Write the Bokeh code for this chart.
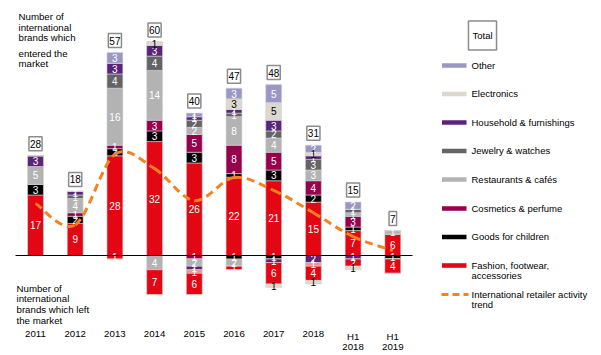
from bokeh.plotting import figure
from bokeh.models import Range1d
from bokeh.core.properties import value
from bokeh.embed import file_html
from bokeh.resources import INLINE

# ---------------- data ----------------
categories = ["2011", "2012", "2013", "2014", "2015", "2016", "2017", "2018", "H1\n2018", "H1\n2019"]

# brands which entered the market (stacked upward)
fashion_in     = [17, 9, 28, 32, 26, 22, 21, 15, 7, 6]
goods_in       = [3, 2, 2, 3, 3, 1, 3, 2, 1, 0]
cosmetics_in   = [0, 1, 1, 3, 5, 8, 5, 4, 3, 0]
restaurants_in = [5, 4, 16, 14, 2, 8, 4, 3, 1, 1]
jewelry_in     = [0, 1, 4, 4, 2, 1, 2, 3, 1, 0]
household_in   = [3, 1, 3, 3, 1, 1, 3, 1, 0, 0]
electronics_in = [0, 0, 0, 1, 0, 3, 5, 1, 0, 0]
other_in       = [0, 0, 3, 0, 1, 3, 5, 2, 2, 0]
totals_in      = [28, 18, 57, 60, 40, 47, 48, 31, 15, 7]

# brands which left the market (stacked downward)
cosmetics_out   = [0, 0, 0, 0, 1, 0, 0, 0, 0, 0]
goods_out       = [0, 0, 0, 0, 0, 1, 1, 0, 0, 1]
restaurants_out = [0, 0, 0, 4, 2, 2, 0, 0, 0, 0]
household_out   = [0, 0, 0, 0, 1, 0, 1, 2, 1, 0]
misc_out        = [0, 0, 0, 0, 1, 0, 0, 1, 0, 0]
fashion_out     = [0, 0, 1, 7, 6, 1, 6, 4, 2, 4]
electronics_out = [0, 0, 0, 0, 0, 0, 1, 1, 1, 0]

# international retailer activity trend
trend = [14.6, 8.6, 28.4, 24.4, 15.4, 21.9, 18.3, 12.0, 5.3, 1.4]

legend_labels = ["Other", "Electronics", "Household & furnishings", "Jewelry & watches",
                 "Restaurants & cafés", "Cosmetics & perfume", "Goods for children",
                 "Fashion, footwear,\naccessories", "International retailer activity\ntrend"]

# ---------------- styling ----------------
C_FASHION = "#e30613"
C_GOODS = "#000000"
C_COSM = "#98004b"
C_REST = "#b3b3b3"
C_JEW = "#646466"
C_HOUSE = "#5b2379"
C_ELEC = "#dcd8ce"
C_OTHER = "#9a97c6"
C_MISC = "#f29090"
C_TREND = "#f58220"
FONT = value("Liberation Sans")
LH = 0.97

W, H = 601, 355
X0PX, XSTEP = 35.0, 39.7
Y0PX, YUNIT = 255.0, 3.56


def X(px):
    return (px - X0PX) / XSTEP


def Y(py):
    return (Y0PX - py) / YUNIT


p = figure(width=W, height=H, x_range=Range1d(X(0), X(W)), y_range=Range1d(Y(H), Y(0)),
           output_backend="svg", toolbar_location=None,
           x_axis_location=None, y_axis_location=None, min_border=0,
           outline_line_color=None, background_fill_color="white", border_fill_color="white")
p.grid.visible = False

xs = list(range(len(categories)))
BAR_W = 0.40

pos_series = [(fashion_in, C_FASHION, "white"), (goods_in, C_GOODS, "white"),
              (cosmetics_in, C_COSM, "white"), (restaurants_in, C_REST, "white"),
              (jewelry_in, C_JEW, "white"), (household_in, C_HOUSE, "white"),
              (electronics_in, C_ELEC, "black"), (other_in, C_OTHER, "white")]
neg_series = [(cosmetics_out, C_COSM, "white"), (goods_out, C_GOODS, "white"),
              (restaurants_out, C_REST, "white"), (household_out, C_HOUSE, "white"),
              (misc_out, C_MISC, "white"), (fashion_out, C_FASHION, "white"),
              (electronics_out, C_ELEC, "black")]

lab = {"white": ([], [], []), "black": ([], [], [])}

base = [0.0] * len(xs)
for vals, col, tcol in pos_series:
    top = [b + v for b, v in zip(base, vals)]
    p.vbar(x=xs, bottom=base, top=top, width=BAR_W, fill_color=col,
           line_color="#d4d4d4", line_width=0.6)
    for i, v in enumerate(vals):
        if v > 0:
            lab[tcol][0].append(i)
            lab[tcol][1].append((base[i] + top[i]) / 2)
            lab[tcol][2].append(str(v))
    base = top

base = [0.0] * len(xs)
for vals, col, tcol in neg_series:
    bot = [b - v for b, v in zip(base, vals)]
    p.vbar(x=xs, bottom=bot, top=base, width=BAR_W, fill_color=col,
           line_color="#d4d4d4", line_width=0.6)
    for i, v in enumerate(vals):
        if v > 0:
            lab[tcol][0].append(i)
            lab[tcol][1].append((base[i] + bot[i]) / 2)
            lab[tcol][2].append(str(v))
    base = bot

for tcol, (lx, ly, lt) in lab.items():
    p.text(x=lx, y=ly, text=lt, text_color=tcol, text_font=FONT,
           text_font_size=value("10px"), text_align="center", text_baseline="middle")

# zero line
p.segment(x0=[X(15)], y0=[0], x1=[X(412)], y1=[0], line_color="black", line_width=1)

# trend (smoothed like a spreadsheet smooth line)
n = len(trend)
bx0, by0, bx1, by1, cx0, cy0, cx1, cy1 = [], [], [], [], [], [], [], []
for i in range(n - 1):
    pm = (xs[max(i - 1, 0)], trend[max(i - 1, 0)])
    p0 = (xs[i], trend[i])
    p1 = (xs[i + 1], trend[i + 1])
    p2 = (xs[min(i + 2, n - 1)], trend[min(i + 2, n - 1)])
    bx0.append(p0[0]); by0.append(p0[1]); bx1.append(p1[0]); by1.append(p1[1])
    cx0.append(p0[0] + (p1[0] - pm[0]) / 6); cy0.append(p0[1] + (p1[1] - pm[1]) / 6)
    cx1.append(p1[0] - (p2[0] - p0[0]) / 6); cy1.append(p1[1] - (p2[1] - p0[1]) / 6)
p.bezier(x0=bx0, y0=by0, x1=bx1, y1=by1, cx0=cx0, cy0=cy0, cx1=cx1, cy1=cy1,
         line_color=C_TREND, line_width=3, line_dash="8 5")

# total boxes
p.text(x=xs, y=totals_in, text=[str(t) for t in totals_in], y_offset=-5,
       text_font=FONT, text_font_size=value("10px"), text_color="black",
       text_align="center", text_baseline="bottom",
       background_fill_color="white", border_line_color="#8c8c8c", border_line_width=1.5,
       padding=(1, 3))

# category labels
p.text(x=xs, y=[Y(330)] * len(xs), text=categories, text_font=FONT,
       text_font_size=value("9.7px"), text_color="black", text_align="center",
       text_baseline="top", text_line_height=LH)

# annotations
p.text(x=[X(18)], y=[Y(10.5)], text=["Number of\ninternational\nbrands which"],
       text_font=FONT, text_font_size=value("9.7px"), text_color="black",
       text_align="left", text_baseline="top", text_line_height=LH)
p.text(x=[X(18)], y=[Y(47)], text=["entered the\nmarket"],
       text_font=FONT, text_font_size=value("9.7px"), text_color="black",
       text_align="left", text_baseline="top", text_line_height=LH)
p.text(x=[X(16)], y=[Y(282)], text=["Number of\ninternational\nbrands which left\nthe market"],
       text_font=FONT, text_font_size=value("9.7px"), text_color="black",
       text_align="left", text_baseline="top", text_line_height=LH)

# legend
rows_px = [65, 93.5, 122, 150.5, 179, 208, 236.5, 265, 294]
sw_cols = [C_OTHER, C_ELEC, C_HOUSE, C_JEW, C_REST, C_COSM, C_GOODS, C_FASHION]
for ry, col in zip(rows_px[:8], sw_cols):
    p.quad(left=[X(441.5)], right=[X(466)], top=[Y(ry - 2.3)], bottom=[Y(ry + 2.3)],
           fill_color=col, line_color=None)
p.segment(x0=[X(441)], y0=[Y(rows_px[8])], x1=[X(468)], y1=[Y(rows_px[8])],
          line_color=C_TREND, line_width=3, line_dash="7 4")
p.text(x=[X(471)] * 9, y=[Y(r - 6) for r in rows_px], text=legend_labels, text_font=FONT,
       text_font_size=value("9.5px"), text_color="black", text_align="left",
       text_baseline="top", text_line_height=LH)
p.text(x=[X(482)], y=[Y(35)], text=["Total"], text_font=FONT, text_font_size=value("9.5px"),
       text_color="black", text_align="center", text_baseline="middle",
       background_fill_color="white", border_line_color="#8c8c8c", border_line_width=1.5,
       padding=(4, 9))

open("out.html", "w").write(file_html(p, INLINE))
